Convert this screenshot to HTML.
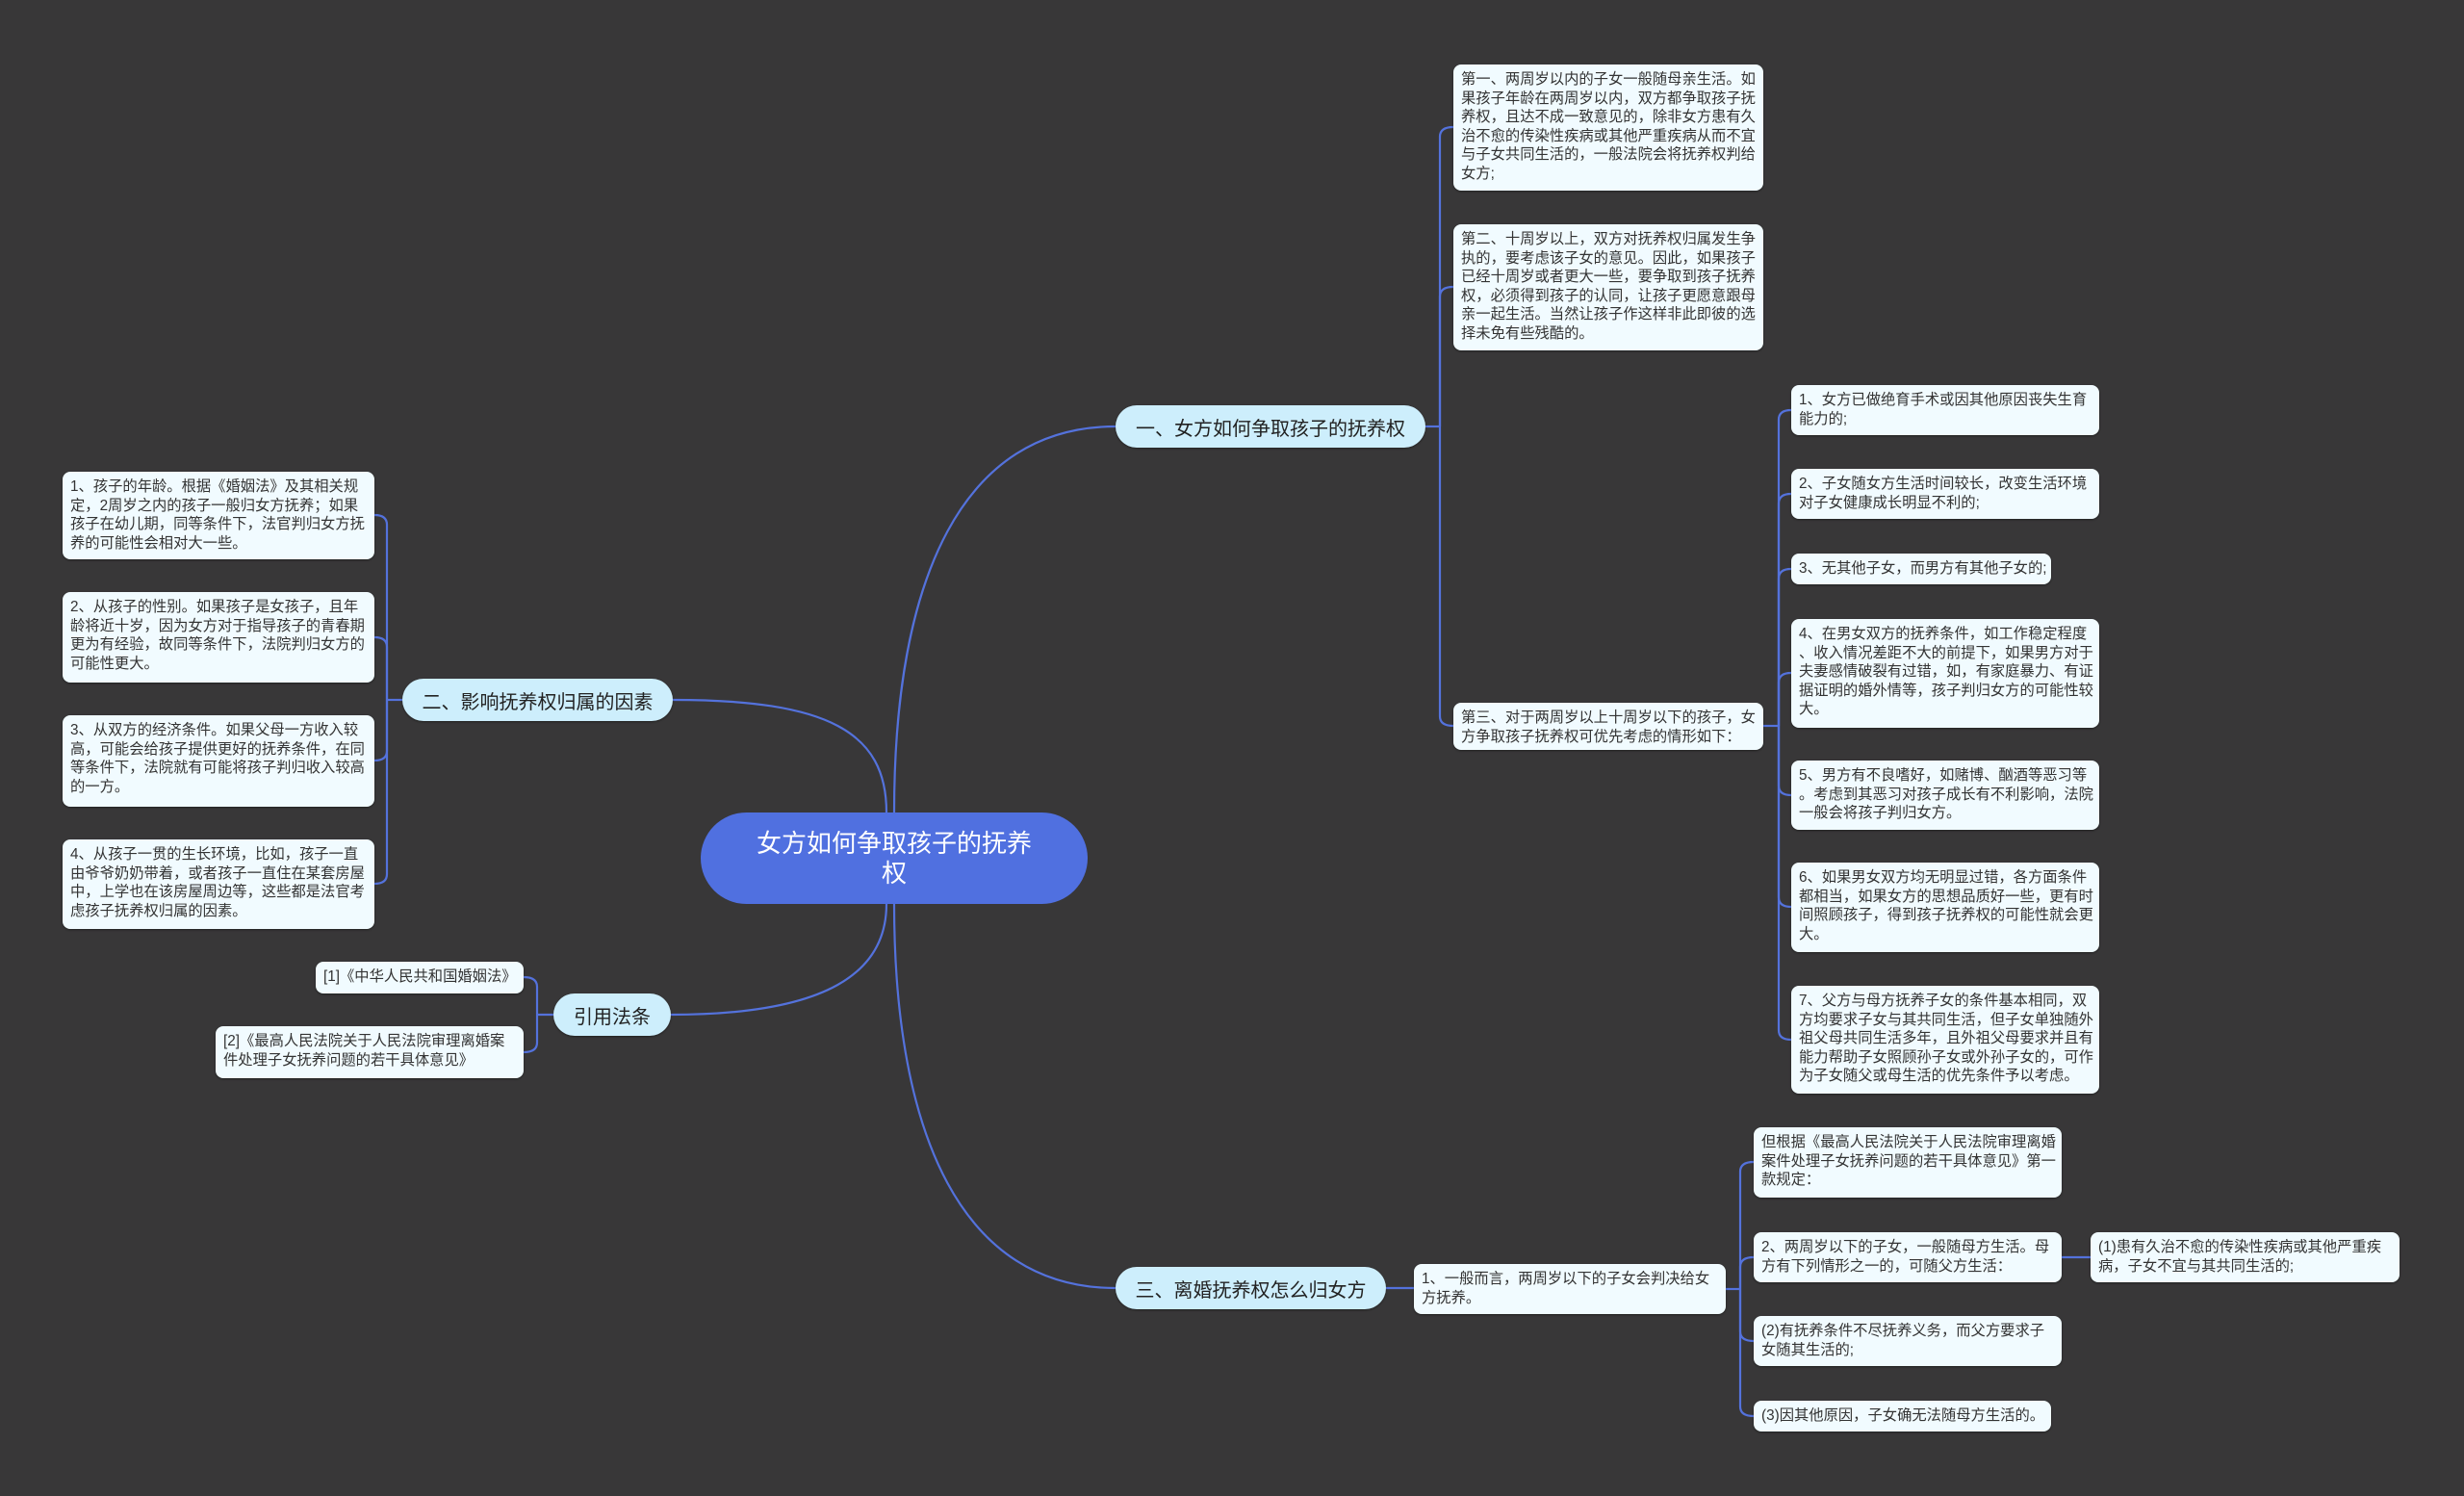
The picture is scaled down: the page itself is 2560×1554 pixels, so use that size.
<!DOCTYPE html>
<html><head><meta charset="utf-8">
<style>
html,body{margin:0;padding:0;}
body{width:2560px;height:1554px;background:#383738;position:relative;overflow:hidden;font-family:"Liberation Sans","Noto Sans CJK SC",sans-serif;}
.l{position:absolute;box-sizing:border-box;background:#f1fbff;color:#333;border-radius:8px;font-size:15.3px;line-height:19.6px;padding:6px 8px;white-space:nowrap;box-shadow:0 1px 2px rgba(0,0,0,.4);}
.b{position:absolute;box-sizing:border-box;background:#cdeefc;color:#222;border-radius:22px;font-size:20px;display:flex;align-items:center;justify-content:center;white-space:nowrap;box-shadow:0 1px 2px rgba(0,0,0,.4);}
.r{position:absolute;left:728px;top:844px;width:402px;height:95px;background:#5070e0;color:#fff;border-radius:48px;font-size:26px;line-height:31px;text-align:center;display:flex;align-items:center;justify-content:center;}
svg{position:absolute;left:0;top:0;}
</style></head><body>
<svg width="2560" height="1554" fill="none" stroke="#5472dc" stroke-width="2.2">
<path d="M929 844 C 929 600, 1000 443, 1159 443"/>
<path d="M921 844 C 921 760, 860 727, 699 727"/>
<path d="M921 939 C 921 1010, 860 1054, 697 1054"/>
<path d="M929 939 C 929 1180, 1000 1338, 1159 1338"/>
<!-- B1 bracket -->
<path d="M1481 443 H1496"/>
<path d="M1496 443 V142 Q1496 132 1510 132"/>
<path d="M1496 443 V308 Q1496 298 1510 298"/>
<path d="M1496 443 V744 Q1496 754 1510 754"/>
<!-- c3 bracket -->
<path d="M1832 754 H1848"/>
<path d="M1848 754 V436 Q1848 426 1861 426"/>
<path d="M1848 754 V523 Q1848 513 1861 513"/>
<path d="M1848 754 V601 Q1848 591 1861 591"/>
<path d="M1848 754 V709 Q1848 699 1861 699"/>
<path d="M1848 754 V816 Q1848 826 1861 826"/>
<path d="M1848 754 V932 Q1848 942 1861 942"/>
<path d="M1848 754 V1070 Q1848 1080 1861 1080"/>
<!-- B2 bracket -->
<path d="M418 727 H402"/>
<path d="M402 727 V545 Q402 535 389 535"/>
<path d="M402 727 V672 Q402 662 389 662"/>
<path d="M402 727 V780 Q402 790 389 790"/>
<path d="M402 727 V908 Q402 918 389 918"/>
<!-- B3 bracket -->
<path d="M575 1054 H558"/>
<path d="M558 1054 V1025 Q558 1015 544 1015"/>
<path d="M558 1054 V1083 Q558 1093 544 1093"/>
<!-- B4 -->
<path d="M1440 1338 H1469"/>
<path d="M1793 1339 H1808"/>
<path d="M1808 1339 V1217 Q1808 1207 1822 1207"/>
<path d="M1808 1339 V1316 Q1808 1306 1822 1306"/>
<path d="M1808 1339 V1383 Q1808 1393 1822 1393"/>
<path d="M1808 1339 V1461 Q1808 1471 1822 1471"/>
<path d="M2142 1306 H2172"/>
</svg>

<div class="r">女方如何争取孩子的抚养<br>权</div>
<div class="b" style="left:1159px;top:421px;width:322px;height:44px;">一、女方如何争取孩子的抚养权</div>
<div class="b" style="left:418px;top:705px;width:281px;height:44px;">二、影响抚养权归属的因素</div>
<div class="b" style="left:575px;top:1032px;width:122px;height:44px;">引用法条</div>
<div class="b" style="left:1159px;top:1316px;width:281px;height:44px;">三、离婚抚养权怎么归女方</div>

<div class="l" style="left:1510px;top:67px;width:322px;height:131px;">第一、两周岁以内的子女一般随母亲生活。如<br>果孩子年龄在两周岁以内，双方都争取孩子抚<br>养权，且达不成一致意见的，除非女方患有久<br>治不愈的传染性疾病或其他严重疾病从而不宜<br>与子女共同生活的，一般法院会将抚养权判给<br>女方;</div>
<div class="l" style="left:1510px;top:233px;width:322px;height:131px;">第二、十周岁以上，双方对抚养权归属发生争<br>执的，要考虑该子女的意见。因此，如果孩子<br>已经十周岁或者更大一些，要争取到孩子抚养<br>权，必须得到孩子的认同，让孩子更愿意跟母<br>亲一起生活。当然让孩子作这样非此即彼的选<br>择未免有些残酷的。</div>
<div class="l" style="left:1510px;top:730px;width:322px;height:49px;">第三、对于两周岁以上十周岁以下的孩子，女<br>方争取孩子抚养权可优先考虑的情形如下：</div>

<div class="l" style="left:1861px;top:400px;width:320px;height:52px;">1、女方已做绝育手术或因其他原因丧失生育<br>能力的;</div>
<div class="l" style="left:1861px;top:487px;width:320px;height:52px;">2、子女随女方生活时间较长，改变生活环境<br>对子女健康成长明显不利的;</div>
<div class="l" style="left:1861px;top:575px;width:270px;height:32px;">3、无其他子女，而男方有其他子女的;</div>
<div class="l" style="left:1861px;top:643px;width:320px;height:113px;">4、在男女双方的抚养条件，如工作稳定程度<br>、收入情况差距不大的前提下，如果男方对于<br>夫妻感情破裂有过错，如，有家庭暴力、有证<br>据证明的婚外情等，孩子判归女方的可能性较<br>大。</div>
<div class="l" style="left:1861px;top:790px;width:320px;height:72px;">5、男方有不良嗜好，如赌博、酗酒等恶习等<br>。考虑到其恶习对孩子成长有不利影响，法院<br>一般会将孩子判归女方。</div>
<div class="l" style="left:1861px;top:896px;width:320px;height:93px;">6、如果男女双方均无明显过错，各方面条件<br>都相当，如果女方的思想品质好一些，更有时<br>间照顾孩子，得到孩子抚养权的可能性就会更<br>大。</div>
<div class="l" style="left:1861px;top:1024px;width:320px;height:112px;">7、父方与母方抚养子女的条件基本相同，双<br>方均要求子女与其共同生活，但子女单独随外<br>祖父母共同生活多年，且外祖父母要求并且有<br>能力帮助子女照顾孙子女或外孙子女的，可作<br>为子女随父或母生活的优先条件予以考虑。</div>

<div class="l" style="left:65px;top:490px;width:324px;height:91px;">1、孩子的年龄。根据《婚姻法》及其相关规<br>定，2周岁之内的孩子一般归女方抚养；如果<br>孩子在幼儿期，同等条件下，法官判归女方抚<br>养的可能性会相对大一些。</div>
<div class="l" style="left:65px;top:615px;width:324px;height:94px;">2、从孩子的性别。如果孩子是女孩子，且年<br>龄将近十岁，因为女方对于指导孩子的青春期<br>更为有经验，故同等条件下，法院判归女方的<br>可能性更大。</div>
<div class="l" style="left:65px;top:743px;width:324px;height:95px;">3、从双方的经济条件。如果父母一方收入较<br>高，可能会给孩子提供更好的抚养条件，在同<br>等条件下，法院就有可能将孩子判归收入较高<br>的一方。</div>
<div class="l" style="left:65px;top:872px;width:324px;height:93px;">4、从孩子一贯的生长环境，比如，孩子一直<br>由爷爷奶奶带着，或者孩子一直住在某套房屋<br>中，上学也在该房屋周边等，这些都是法官考<br>虑孩子抚养权归属的因素。</div>

<div class="l" style="left:328px;top:999px;width:216px;height:33px;">[1]《中华人民共和国婚姻法》</div>
<div class="l" style="left:224px;top:1066px;width:320px;height:54px;">[2]《最高人民法院关于人民法院审理离婚案<br>件处理子女抚养问题的若干具体意见》</div>

<div class="l" style="left:1469px;top:1313px;width:324px;height:52px;">1、一般而言，两周岁以下的子女会判决给女<br>方抚养。</div>
<div class="l" style="left:1822px;top:1171px;width:320px;height:73px;">但根据《最高人民法院关于人民法院审理离婚<br>案件处理子女抚养问题的若干具体意见》第一<br>款规定：</div>
<div class="l" style="left:1822px;top:1280px;width:320px;height:52px;">2、两周岁以下的子女，一般随母方生活。母<br>方有下列情形之一的，可随父方生活：</div>
<div class="l" style="left:1822px;top:1367px;width:320px;height:52px;">(2)有抚养条件不尽抚养义务，而父方要求子<br>女随其生活的;</div>
<div class="l" style="left:1822px;top:1455px;width:309px;height:32px;">(3)因其他原因，子女确无法随母方生活的。</div>
<div class="l" style="left:2172px;top:1280px;width:321px;height:52px;">(1)患有久治不愈的传染性疾病或其他严重疾<br>病，子女不宜与其共同生活的;</div>
</body></html>
